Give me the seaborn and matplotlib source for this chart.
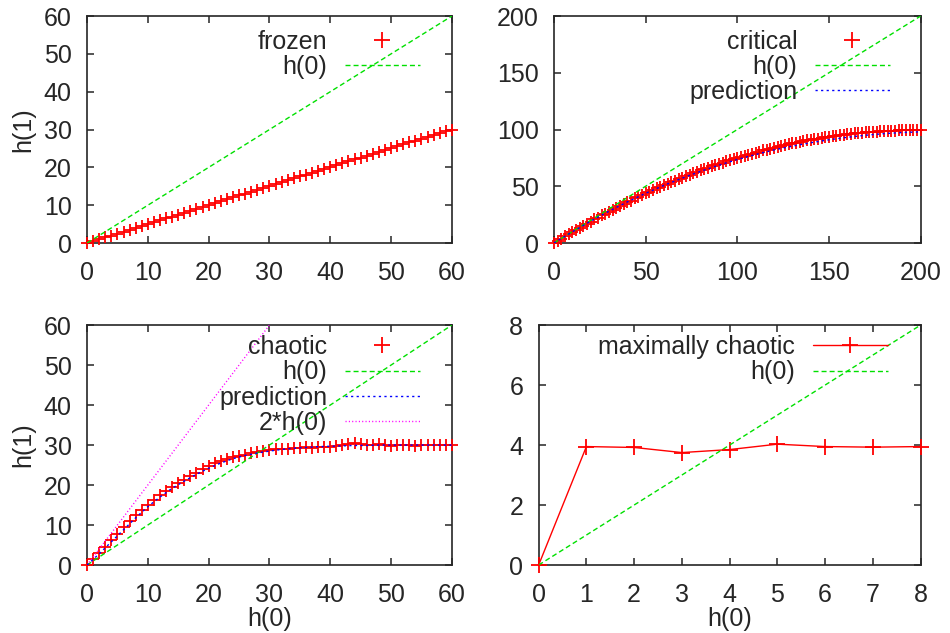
# Recreating the h(1) vs h(0) four-panel comparison (gnuplot look)
import numpy as np
import pandas as pd
import matplotlib
matplotlib.use("Agg")
import matplotlib.pyplot as plt
import seaborn as sns
import matplotlib.lines as mlines

# ---- data ----
frozen_x = np.arange(0, 61)
frozen_y = [0.0, 0.5, 1.0, 1.5, 2.0, 2.5, 3.0, 3.5, 4.0, 4.5,
            5.0, 5.5, 6.0, 6.5, 7.0, 7.5, 8.0, 8.5, 9.0, 9.6,
            10.1, 10.6, 11.1, 11.6, 12.1, 12.6, 13.1, 13.6, 14.1, 14.6,
            15.2, 15.6, 16.1, 16.6, 17.1, 17.6, 18.1, 18.6, 19.1, 19.6,
            20.1, 20.6, 21.1, 21.6, 22.1, 22.6, 23.1, 23.6, 24.1, 24.6,
            25.1, 25.6, 26.1, 26.6, 27.1, 27.6, 28.1, 28.6, 29.1, 29.6,
            30.0]

critical_x = np.arange(0, 201, 2)
critical_y = [0.0, 2.1, 4.0, 5.8, 7.9, 9.7, 11.7, 13.4, 15.4, 17.1,
              19.0, 20.9, 22.5, 24.4, 26.0, 27.8, 29.5, 31.0, 32.8, 34.3,
              36.1, 37.5, 39.3, 40.6, 42.3, 43.8, 45.3, 46.6, 48.2, 49.5,
              51.1, 52.3, 53.8, 55.0, 56.5, 57.7, 59.1, 60.2, 61.6, 62.7,
              64.0, 65.3, 66.3, 67.6, 68.5, 69.8, 70.8, 71.9, 73.0, 73.9,
              75.0, 76.0, 76.9, 77.9, 78.8, 79.8, 80.6, 81.6, 82.3, 83.3,
              84.0, 84.8, 85.6, 86.4, 87.0, 87.8, 88.4, 89.2, 89.7, 90.4,
              91.0, 91.6, 92.1, 92.7, 93.2, 93.7, 94.2, 94.7, 95.1, 95.6,
              95.9, 96.4, 96.7, 97.1, 97.3, 97.6, 97.9, 98.2, 98.3, 98.6,
              98.7, 98.9, 99.0, 99.1, 99.2, 99.2, 99.3, 99.3, 99.3, 99.3,
              99.2]
critical_pred_x = np.arange(0, 201, 10)
critical_pred_y = [0.0, 9.8, 19.2, 28.0, 36.2, 43.8, 50.8, 57.2, 63.2, 68.6,
                   73.6, 78.0, 82.0, 85.4, 88.4, 91.0, 93.2, 95.0, 96.4, 97.4,
                   98.0]

chaotic_x = np.arange(0, 61)
chaotic_y = [0.0, 1.5, 3.0, 4.6, 6.2, 7.8, 9.4, 11.0, 12.4, 13.8,
             15.0, 16.2, 17.4, 18.4, 19.4, 20.4, 21.3, 22.2, 23.0, 23.9,
             24.7, 25.4, 26.0, 26.5, 27.0, 27.3, 27.6, 27.9, 28.2, 28.5,
             28.7, 28.9, 29.0, 29.1, 29.2, 29.3, 29.4, 29.3, 29.5, 29.6,
             29.5, 29.7, 29.9, 30.2, 30.4, 30.3, 30.1, 30.0, 30.2, 29.9,
             29.8, 29.9, 30.0, 29.9, 29.8, 29.9, 30.0, 29.9, 30.0, 29.9,
             30.0]
chaotic_pred_x = np.arange(0, 61, 2)
chaotic_pred_y = [0.0, 2.8, 5.8, 8.8, 11.8, 14.6, 17.0, 19.2, 21.0, 22.7,
                  24.2, 25.5, 26.6, 27.4, 28.0, 28.5, 28.9, 29.2, 29.4, 29.6,
                  29.7, 29.8, 29.9, 29.9, 30.0, 30.0, 30.0, 30.0, 30.0, 30.0,
                  30.0]

maxchaos_x = np.arange(0, 9)
maxchaos_y = [0.0, 3.95, 3.92, 3.75, 3.85, 4.03, 3.95, 3.93, 3.95]

# ---- styling ----
sns.set_style("ticks")
plt.rcParams["font.family"] = ["Liberation Sans", "DejaVu Sans"]
plt.rcParams["font.size"] = 18

RED = "#ff0000"
GREEN = "#00e000"
BLUE = "#0000ff"
MAGENTA = "#ff00ff"
GREEN_DASH = (3.6, 2.2)
BLUE_DASH = (1.6, 2.4)
MAGENTA_DASH = (0.8, 1.6)

fig = plt.figure(figsize=(9.5, 6.33), dpi=100)
ax_fr = fig.add_axes([0.0916, 0.616, 0.384, 0.3586])
ax_cr = fig.add_axes([0.583, 0.616, 0.386, 0.3586])
ax_ch = fig.add_axes([0.0916, 0.1074, 0.384, 0.379])
ax_mx = fig.add_axes([0.567, 0.1074, 0.402, 0.379])


def style_axes(ax, xmax, ymax, xstep, ystep):
    ax.set_xlim(0, xmax)
    ax.set_ylim(0, ymax)
    ax.set_xticks(np.arange(0, xmax + xstep / 2, xstep))
    ax.set_yticks(np.arange(0, ymax + ystep / 2, ystep))
    ax.tick_params(direction="in", top=True, right=True, length=5, width=1.1,
                   labelsize=18)
    ax.tick_params(axis="x", pad=13)
    ax.tick_params(axis="y", pad=11)
    for sp in ax.spines.values():
        sp.set_linewidth(1.2)
        sp.set_visible(True)
    ax.set_xlabel("")
    ax.set_ylabel("")


def diag_line(ax, xmax, color, dashes, factor=1):
    sns.lineplot(x=[0, xmax], y=[0, factor * xmax], color=color, lw=1.0,
                 ax=ax, zorder=4)
    ax.lines[-1].set_dashes(dashes)


def points(ax, x, y):
    sns.scatterplot(x=x, y=y, marker="+", s=80, color=RED, linewidth=1.3,
                    clip_on=False, zorder=3, ax=ax, legend=False)


def add_legend(ax, handles, xanchor, yanchor):
    ax.legend(handles=handles, loc="upper right",
              bbox_to_anchor=(xanchor, yanchor), frameon=False,
              markerfirst=False, handlelength=3.0, handletextpad=0.7,
              labelspacing=0.05, borderpad=0, borderaxespad=0, fontsize=18)


plus_handle = lambda lab: mlines.Line2D([], [], color=RED, marker="+", ls="",
                                        markersize=11, mew=1.3, label=lab)
green_handle = mlines.Line2D([], [], color=GREEN, lw=1.0, dashes=GREEN_DASH, label="h(0)")
blue_handle = mlines.Line2D([], [], color=BLUE, lw=1.0, dashes=BLUE_DASH, label="prediction")

# frozen
points(ax_fr, frozen_x, frozen_y)
diag_line(ax_fr, 60, GREEN, GREEN_DASH)
style_axes(ax_fr, 60, 60, 10, 10)
ax_fr.set_ylabel("h(1)", labelpad=6)
add_legend(ax_fr, [plus_handle("frozen"), green_handle], 0.912, 0.94)

# critical
points(ax_cr, critical_x, critical_y)
diag_line(ax_cr, 200, GREEN, GREEN_DASH)
sns.lineplot(x=critical_pred_x, y=critical_pred_y, color=BLUE, lw=1.0, ax=ax_cr, zorder=5)
ax_cr.lines[-1].set_dashes(BLUE_DASH)
style_axes(ax_cr, 200, 200, 50, 50)
add_legend(ax_cr, [plus_handle("critical"), green_handle, blue_handle], 0.916, 0.94)

# chaotic
points(ax_ch, chaotic_x, chaotic_y)
diag_line(ax_ch, 60, GREEN, GREEN_DASH)
sns.lineplot(x=chaotic_pred_x, y=chaotic_pred_y, color=BLUE, lw=1.0, ax=ax_ch, zorder=5)
ax_ch.lines[-1].set_dashes(BLUE_DASH)
diag_line(ax_ch, 30, MAGENTA, MAGENTA_DASH, factor=2)
style_axes(ax_ch, 60, 60, 10, 10)
ax_ch.set_ylabel("h(1)", labelpad=6)
ax_ch.set_xlabel("h(0)", labelpad=0)
add_legend(ax_ch, [plus_handle("chaotic"), green_handle,
                   mlines.Line2D([], [], color=BLUE, lw=1.0, dashes=BLUE_DASH, label="prediction"),
                   mlines.Line2D([], [], color=MAGENTA, lw=1.0, dashes=MAGENTA_DASH, label="2*h(0)")],
           0.912, 0.958)

# maximally chaotic
sns.lineplot(x=maxchaos_x, y=maxchaos_y, color=RED, lw=1.0, marker="+",
             markersize=11, mew=1.3, markeredgecolor=RED, clip_on=False,
             ax=ax_mx, zorder=3)
diag_line(ax_mx, 8, GREEN, GREEN_DASH)
style_axes(ax_mx, 8, 8, 1, 2)
ax_mx.set_xlabel("h(0)", labelpad=0)
add_legend(ax_mx, [mlines.Line2D([], [], color=RED, lw=1.0, marker="+", markersize=11,
                                 mew=1.3, label="maximally chaotic"),
                   mlines.Line2D([], [], color=GREEN, lw=1.0, dashes=GREEN_DASH, label="h(0)")],
           0.914, 0.958)

fig.savefig("out.png", dpi=100)
